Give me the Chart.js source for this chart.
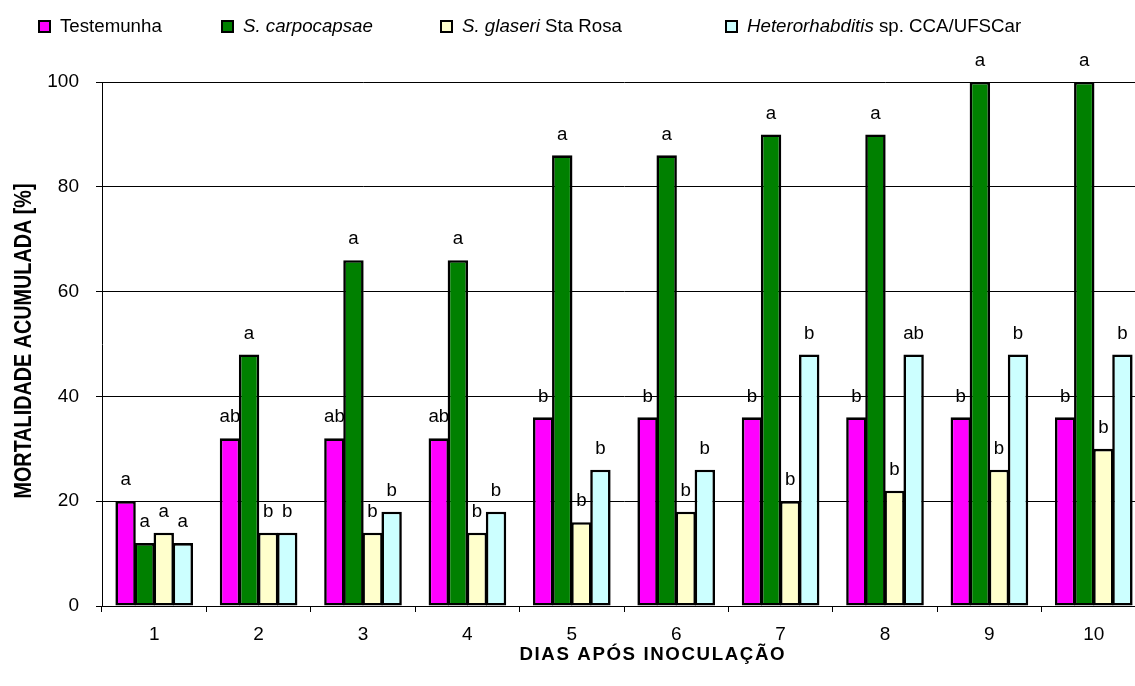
<!DOCTYPE html>
<html>
<head>
<meta charset="utf-8">
<script src="https://cdn.jsdelivr.net/npm/chart.js@4.4.1/dist/chart.umd.min.js"></script>
<style>
  html, body { margin: 0; padding: 0; background: #ffffff; overflow: hidden; }
  canvas { display: block; }
</style>
</head>
<body>
<canvas id="chart" width="1160" height="686"></canvas>
<script>
// Days after inoculation
const days = ['1', '2', '3', '4', '5', '6', '7', '8', '9', '10'];

// Cumulative mortality (%) per treatment
const testemunha      = [20, 32, 32, 32, 36, 36, 36, 36, 36, 36];
const carpocapsae     = [12, 48, 66, 66, 86, 86, 90, 90, 100, 100];
const glaseri         = [14, 14, 14, 14, 16, 18, 20, 22, 26, 30];
const heterorhabditis = [12, 14, 18, 18, 26, 26, 48, 48, 48, 48];

// Significance letters shown above each bar
const lettersTestemunha      = ['a', 'ab', 'ab', 'ab', 'b', 'b', 'b', 'b', 'b', 'b'];
const lettersCarpocapsae     = ['a', 'a', 'a', 'a', 'a', 'a', 'a', 'a', 'a', 'a'];
const lettersGlaseri         = ['a', 'b', 'b', 'b', 'b', 'b', 'b', 'b', 'b', 'b'];
const lettersHeterorhabditis = ['a', 'b', 'b', 'b', 'b', 'b', 'b', 'ab', 'b', 'b'];

// Y axis ticks
const yTicks = [0, 20, 40, 60, 80, 100];

// Legend entries: pieces of text, some in italics
const legendTestemunha      = [{ t: 'Testemunha', i: false }];
const legendCarpocapsae     = [{ t: 'S. carpocapsae', i: true }];
const legendGlaseri         = [{ t: 'S. glaseri', i: true }, { t: ' Sta Rosa', i: false }];
const legendHeterorhabditis = [{ t: 'Heterorhabditis', i: true }, { t: ' sp. CCA/UFSCar', i: false }];

const yTitle = 'MORTALIDADE ACUMULADA [%]';
const xTitle = 'DIAS APÓS INOCULAÇÃO';

const FONT = "'Liberation Sans', Arial, sans-serif";
const colors = ['#FF00FF', '#008000', '#FFFFCC', '#CCFFFF'];
const allLetters = [lettersTestemunha, lettersCarpocapsae, lettersGlaseri, lettersHeterorhabditis];
const legendItems = [
  { parts: legendTestemunha, color: colors[0], x: 60 },
  { parts: legendCarpocapsae, color: colors[1], x: 243 },
  { parts: legendGlaseri, color: colors[2], x: 462 },
  { parts: legendHeterorhabditis, color: colors[3], x: 747 }
];

const decorations = {
  id: 'decorations',
  afterDatasetsDraw(chart) {
    const ctx = chart.ctx;
    ctx.save();
    // letters above bars
    ctx.fillStyle = '#000';
    ctx.font = '18.7px ' + FONT;
    ctx.textAlign = 'center';
    ctx.textBaseline = 'middle';
    chart.data.datasets.forEach((ds, di) => {
      const meta = chart.getDatasetMeta(di);
      meta.data.forEach((bar, i) => {
        ctx.fillText(allLetters[di][i], bar.x, bar.y - 21);
      });
    });
    ctx.restore();
  },
  afterDraw(chart) {
    const ctx = chart.ctx;
    const area = chart.chartArea;
    ctx.save();
    // legend
    ctx.textBaseline = 'middle';
    ctx.textAlign = 'left';
    legendItems.forEach(item => {
      ctx.fillStyle = item.color;
      ctx.fillRect(item.x - 21, 21, 11, 11);
      ctx.lineWidth = 2;
      ctx.strokeStyle = '#000';
      ctx.strokeRect(item.x - 21, 21, 11, 11);
      let x = item.x;
      ctx.fillStyle = '#000';
      item.parts.forEach(p => {
        ctx.font = (p.i ? 'italic ' : '') + '18.7px ' + FONT;
        ctx.fillText(p.t, x, 27);
        x += ctx.measureText(p.t).width;
      });
    });

    // y axis title, bold and narrow
    ctx.save();
    ctx.translate(24.5, (area.top + area.bottom) / 2 - 3);
    ctx.rotate(-Math.PI / 2);
    ctx.font = 'bold 23px ' + FONT;
    const w = ctx.measureText(yTitle).width;
    ctx.scale(315 / w, 1);
    ctx.textAlign = 'center';
    ctx.textBaseline = 'middle';
    ctx.fillStyle = '#000';
    ctx.fillText(yTitle, 0, 0);
    ctx.restore();

    // x axis title with spaced letters
    ctx.font = 'bold 18.7px ' + FONT;
    ctx.fillStyle = '#000';
    ctx.textBaseline = 'middle';
    ctx.textAlign = 'left';
    const spacing = 1.6;
    const chars = Array.from(xTitle);
    let total = 0;
    chars.forEach(c => { total += ctx.measureText(c).width + spacing; });
    total -= spacing;
    let cx = 652 - total / 2;
    chars.forEach(c => {
      ctx.fillText(c, cx, 655);
      cx += ctx.measureText(c).width + spacing;
    });
    ctx.restore();
  }
};

const mkSet = (label, data, color) => ({
  label, data,
  backgroundColor: color,
  borderColor: '#000',
  borderWidth: 2.6,
  borderSkipped: false,
  categoryPercentage: 0.731,
  barPercentage: 1.07
});

new Chart(document.getElementById('chart'), {
  type: 'bar',
  data: {
    labels: days,
    datasets: [
      mkSet('Testemunha', testemunha, colors[0]),
      mkSet('S. carpocapsae', carpocapsae, colors[1]),
      mkSet('S. glaseri Sta Rosa', glaseri, colors[2]),
      mkSet('Heterorhabditis sp. CCA/UFSCar', heterorhabditis, colors[3])
    ]
  },
  options: {
    responsive: false,
    animation: false,
    devicePixelRatio: 1,
    layout: { padding: { top: 82, right: 14, left: 0, bottom: 0 } },
    plugins: {
      legend: { display: false },
      tooltip: { enabled: false },
      title: { display: false }
    },
    scales: {
      x: {
        grid: {
          display: true,
          offset: true,
          drawOnChartArea: false,
          drawTicks: true,
          tickLength: 6,
          color: '#000',
          lineWidth: 1
        },
        border: { display: true, color: '#000', width: 1 },
        ticks: {
          color: '#000',
          font: { family: FONT, size: 19 },
          padding: 11,
          maxRotation: 0
        },
        afterFit(scale) { scale.height = 80; }
      },
      y: {
        min: 0,
        max: 100,
        afterBuildTicks(scale) { scale.ticks = yTicks.map(v => ({ value: v })); },
        grid: {
          color: '#000',
          lineWidth: 1,
          drawTicks: true,
          tickLength: 6
        },
        border: { display: true, color: '#000', width: 1 },
        ticks: {
          color: '#000',
          font: { family: FONT, size: 19 },
          padding: 17
        },
        afterFit(scale) { scale.width = 102; }
      }
    }
  },
  plugins: [decorations]
});
</script>
</body>
</html>
